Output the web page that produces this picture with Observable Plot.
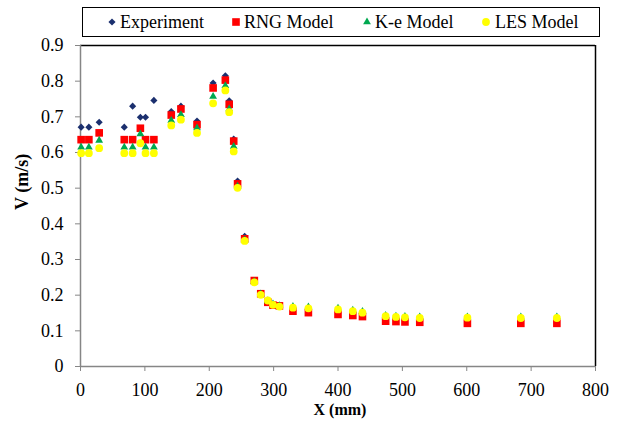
<!DOCTYPE html>
<html>
<head>
<meta charset="utf-8">
<script src="https://cdn.jsdelivr.net/npm/d3@7"></script>
<script src="https://cdn.jsdelivr.net/npm/@observablehq/plot@0.6"></script>
<style>
  html, body { margin: 0; padding: 0; background: white; }
  #wrap { position: relative; width: 622px; height: 421px; font-family: "Liberation Serif", "Times New Roman", serif; }
  #legend { position: absolute; left: 82px; top: 7px; width: 516px; height: 28px; border: 1.5px solid #000; box-sizing: content-box; }
  .lt { position: absolute; top: 3px; font-size: 18px; line-height: 22px; color: #000; white-space: nowrap; }
  .sym { position: absolute; }
  #chart { position: absolute; left: 0; top: 40px; }
</style>
</head>
<body>
<div id="wrap">
  <div id="legend"></div>
  <div id="chart"></div>
</div>
<script>
// ---- data ----
const xPos = [1, 13, 29, 68, 81, 93, 101, 114, 141, 156, 181, 206, 225, 231, 238, 244, 255,
              270, 280, 291, 299, 309, 330, 354, 400, 423, 438, 474, 490, 504, 527, 601, 684, 740];
const experiment = [0.671, 0.671, 0.685, 0.671, 0.730, 0.699, 0.699, 0.746, 0.715, 0.730, 0.688,
                    0.795, 0.815, 0.745, 0.638, 0.520, 0.365];
const rng = [0.636, 0.636, 0.655, 0.636, 0.636, 0.668, 0.636, 0.636, 0.705, 0.722, 0.678, 0.781,
             0.803, 0.735, 0.632, 0.512, 0.358, 0.241, 0.204, 0.180, 0.172, 0.170, 0.155, 0.151,
             0.146, 0.143, 0.140, 0.127, 0.126, 0.125, 0.124, 0.121, 0.121, 0.121];
const ke = [0.615, 0.615, 0.634, 0.615, 0.615, 0.652, 0.615, 0.615, 0.690, 0.706, 0.669, 0.757,
            0.787, 0.722, 0.617, 0.505, 0.355, 0.238, 0.203, 0.184, 0.175, 0.170, 0.168, 0.167,
            0.163, 0.158, 0.154, 0.143, 0.141, 0.140, 0.139, 0.139, 0.139, 0.139];
const les = [0.598, 0.598, 0.612, 0.598, 0.598, 0.626, 0.598, 0.598, 0.676, 0.692, 0.655, 0.738,
             0.774, 0.713, 0.603, 0.501, 0.352, 0.236, 0.201, 0.185, 0.173, 0.168, 0.165, 0.163,
             0.160, 0.155, 0.151, 0.141, 0.139, 0.138, 0.136, 0.137, 0.136, 0.136];
const seriesNames = ["Experiment", "RNG Model", "K-e Model", "LES Model"];
const xTicks = [0, 100, 200, 300, 400, 500, 600, 700, 800];
const yTicks = [0, 0.1, 0.2, 0.3, 0.4, 0.5, 0.6, 0.7, 0.8, 0.9];
const xTitle = "X (mm)";
const yTitle = "V (m/s)";

// ---- styles ----
const colors = { "Experiment": "#1b2f6e", "RNG Model": "#ff0000", "K-e Model": "#00a850", "LES Model": "#ffff00" };
const symbols = { "Experiment": "diamond2", "RNG Model": "square", "K-e Model": "triangle", "LES Model": "circle" };
const radii = { "Experiment": 3.2, "RNG Model": 4.3, "K-e Model": 2.9, "LES Model": 3.9 };

const toRows = (vals) => vals.map((v, i) => ({ x: xPos[i], v }));
const seriesData = [toRows(experiment), toRows(rng), toRows(ke), toRows(les)];

const gray = "#868686";
const chart = Plot.plot({
  width: 622,
  height: 381,
  marginLeft: 80,
  marginRight: 27,
  marginTop: 5,
  marginBottom: 55,
  style: { fontFamily: "'Liberation Serif', 'Times New Roman', serif", fontSize: "18px", color: "#000", background: "white", overflow: "visible" },
  x: { domain: [0, 800] },
  y: { domain: [0, 0.9] },
  marks: [
    Plot.ruleY([0.9], { stroke: "#000", strokeWidth: 1.5 }),
    Plot.ruleX([800], { stroke: "#000", strokeWidth: 1.5 }),
    Plot.ruleX([0], { stroke: gray, strokeWidth: 1.5 }),
    Plot.ruleY([0], { stroke: gray, strokeWidth: 1.5 }),
    Plot.axisY({ ticks: yTicks, tickSize: 5, tickPadding: 12, stroke: gray, tickFormat: d => String(d), label: null }),
    Plot.axisX({ ticks: xTicks, tickSize: 5, tickPadding: 12, stroke: gray, tickFormat: d => String(d), label: null }),
    ...seriesNames.map((name, k) =>
      Plot.dot(seriesData[k], { x: "x", y: "v", symbol: () => symbols[name], r: radii[name], fill: colors[name], stroke: "none" })
    ),
    Plot.text([yTitle], { frameAnchor: "left", dx: -58, dy: 4, rotate: -90, fontWeight: "bold", fontSize: 18, text: d => d }),
    Plot.text([xTitle], { frameAnchor: "bottom", dx: 2, dy: 48, fontWeight: "bold", fontSize: 16, text: d => d })
  ]
});
document.getElementById("chart").appendChild(chart);

// ---- legend ----
const legend = document.getElementById("legend");
const legendPos = [
  { sym: 28.5, text: 37 },
  { sym: 153, text: 161 },
  { sym: 284, text: 292 },
  { sym: 403, text: 412 }
];
seriesNames.forEach((name, k) => {
  const s = document.createElementNS("http://www.w3.org/2000/svg", "svg");
  s.setAttribute("width", 12); s.setAttribute("height", 12);
  s.setAttribute("class", "sym");
  s.style.left = (legendPos[k].sym - 6) + "px";
  s.style.top = "8px";
  const p = document.createElementNS("http://www.w3.org/2000/svg", "path");
  const symMap = { diamond2: d3.symbolDiamond2, square: d3.symbolSquare, triangle: d3.symbolTriangle, circle: d3.symbolCircle };
  const r = radii[name];
  p.setAttribute("d", d3.symbol(symMap[symbols[name]], Math.PI * r * r)());
  p.setAttribute("transform", "translate(6,6)");
  p.setAttribute("fill", colors[name]);
  s.appendChild(p);
  legend.appendChild(s);
  const t = document.createElement("span");
  t.className = "lt";
  t.style.left = legendPos[k].text + "px";
  t.textContent = name;
  legend.appendChild(t);
});
</script>
</body>
</html>
